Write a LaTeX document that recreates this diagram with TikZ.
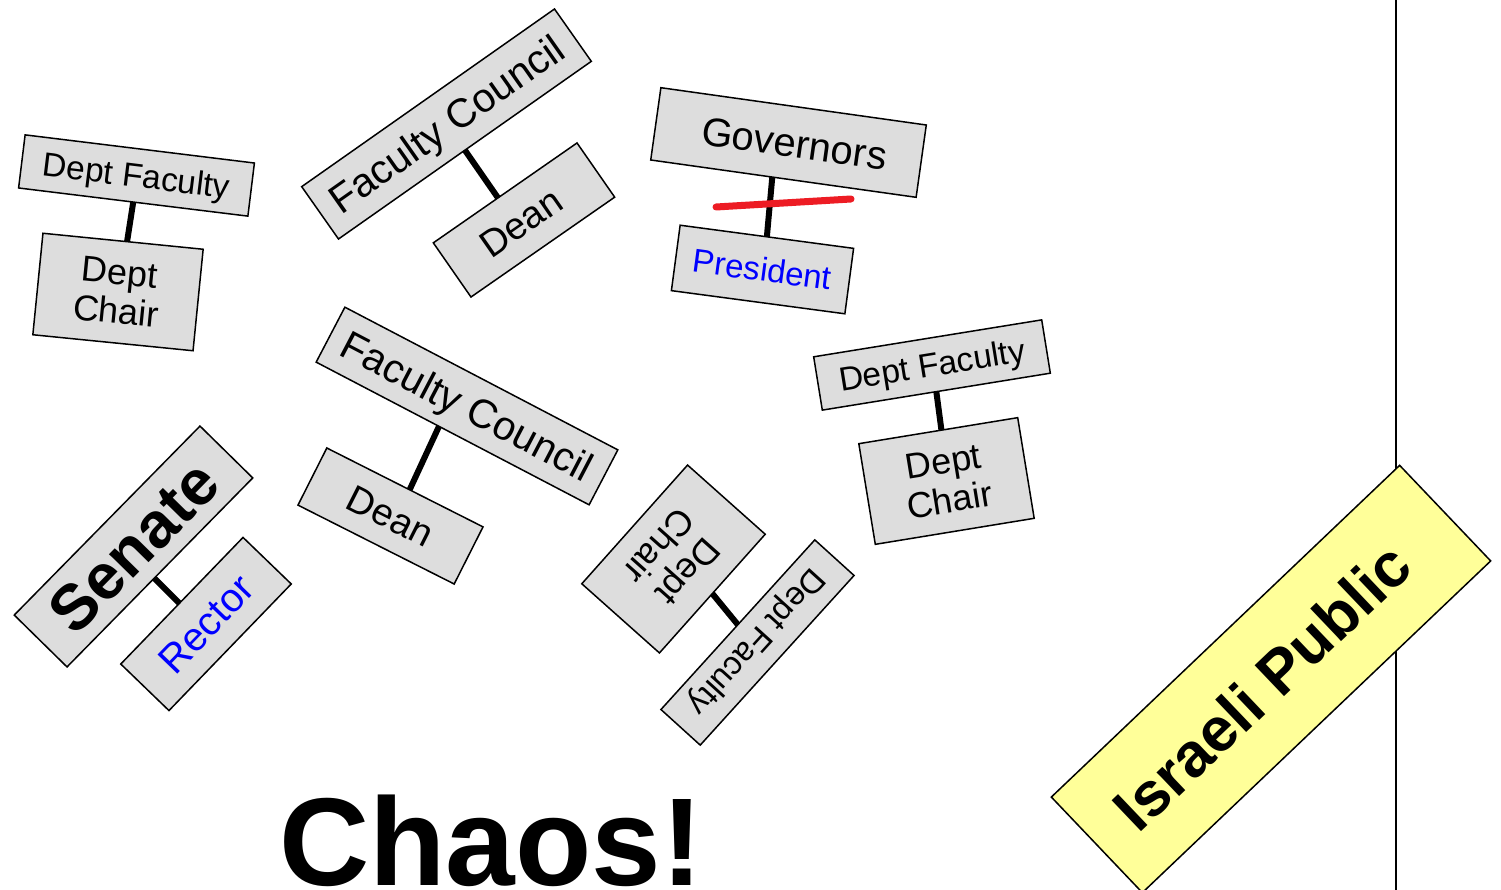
\documentclass[tikz,border=0pt]{standalone}
\usepackage{fontspec}
\setmainfont{Liberation Sans}
\usetikzlibrary{calc}
\definecolor{boxgray}{HTML}{DDDDDD}
\definecolor{pubyellow}{HTML}{FFFF99}
\definecolor{cutred}{RGB}{237,28,36}
\definecolor{roleblue}{RGB}{0,0,255}
\newcommand{\fsz}[2]{\fontsize{#1}{#2}\selectfont}
\newcommand{\pps}{\rule[-0.2em]{0pt}{1.1em}}
\tikzset{
  orgbox/.style={draw=black, line width=1.5pt, fill=boxgray, rectangle, inner sep=0pt, outer sep=0pt, align=center},
  pubbox/.style={orgbox, fill=pubyellow},
  link/.style={line width=6pt, line cap=butt},
  cutline/.style={draw=cutred, line width=7pt, line cap=round},
  rail/.style={line width=1.5pt},
}
\begin{document}
\begin{tikzpicture}[x=1pt, y=-1pt]
\fill[white] (0,0) rectangle (1501,890);
\useasboundingbox (0,0) rectangle (1501,890);

% vertical rail behind the yellow box
\coordinate (railT) at (1396,0);
\coordinate (railB) at (1396,890);
\draw[rail] (railT) -- (railB);

% top-left pair
\node[orgbox, minimum width=231pt, minimum height=53.5pt, rotate=-7, font=\fsz{33.5}{35}] (dfA) at (136.5,175.5) {\pps Dept Faculty};
\node[orgbox, minimum width=161pt, minimum height=102pt, rotate=-5.7, font=\fsz{36}{39}] (dcA) at (118,292) {Dept\\Chair};

% top faculty council / dean
\node[orgbox, minimum width=309pt, minimum height=64pt, rotate=35.1, font=\fsz{40.5}{43}] (fcA) at (446.5,124) {\pps Faculty Council};
\node[orgbox, minimum width=175pt, minimum height=66pt, rotate=34.8, font=\fsz{38}{40}] (deanA) at (524,220) {\pps Dean\hspace*{8pt}};

% governors / president
\node[orgbox, minimum width=268pt, minimum height=73pt, rotate=-8, font=\fsz{40}{42}] (gov) at (788.5,142.5) {\pps\hspace*{12pt}Governors};
\node[orgbox, minimum width=175pt, minimum height=66pt, rotate=-7.6, font=\fsz{33}{35}, text=roleblue] (pres) at (762.5,269.5) {\pps President};

% right pair
\node[orgbox, minimum width=231pt, minimum height=54pt, rotate=9.2, font=\fsz{33.5}{35}] (dfB) at (932,365) {\pps Dept Faculty};
\node[orgbox, minimum width=161pt, minimum height=102pt, rotate=9.3, font=\fsz{36}{39}] (dcB) at (946.5,481) {Dept\\Chair};

% middle faculty council / dean
\node[orgbox, minimum width=308pt, minimum height=62pt, rotate=-27.6, font=\fsz{40.5}{43}] (fcB) at (467,406) {\pps Faculty Council};
\node[orgbox, minimum width=175pt, minimum height=64pt, rotate=-26.8, font=\fsz{38}{40}] (deanB) at (390.5,516) {\pps Dean};

% senate / rector
\node[orgbox, minimum width=265pt, minimum height=74pt, rotate=45.5, font=\fsz{64}{66}\bfseries] (senate) at (133.5,546.5) {\pps Senate};
\node[orgbox, minimum width=176pt, minimum height=67pt, rotate=46, font=\fsz{40}{42}, text=roleblue] (rector) at (206,624) {\pps Rector};

% upside-down pair
\node[orgbox, minimum width=159pt, minimum height=104pt, rotate=228.3, font=\fsz{36}{39}] (dcC) at (673.5,559) {Dept\\Chair};
\node[orgbox, minimum width=229pt, minimum height=53pt, rotate=227.8, font=\fsz{33}{35}] (dfC) at (757.5,642.5) {\pps Dept Faculty};

% Israeli public
\node[pubbox, minimum width=481pt, minimum height=132pt, rotate=43.6, font=\fsz{62}{64}\bfseries] (pub) at (1271,679) {\pps Israeli Public\hspace*{24pt}};

% connectors
\draw[link] (dfA.south) -- ($(dcA.north west)!0.525!(dcA.north east)$);
\draw[link] (fcA.south) -- ($(deanA.north west)!0.45!(deanA.north east)$);
\draw[link] ($(gov.south west)!0.458!(gov.south east)$) -- (pres.north);
\draw[link] (dfB.south) -- ($(dcB.north west)!0.52!(dcB.north east)$);
\draw[link] ($(fcB.south west)!0.45!(fcB.south east)$) -- ($(deanB.north west)!0.53!(deanB.north east)$);
\draw[link] ($(senate.south west)!0.47!(senate.south east)$) -- ($(rector.north west)!0.48!(rector.north east)$);
\draw[link] (dcC.north) -- (dfC.south);

% red strike-through
\coordinate (cutL) at (716,207);
\coordinate (cutR) at (851,199);
\draw[cutline] (cutL) -- (cutR);

% title
\node[anchor=base, inner sep=0pt, font=\fsz{125}{130}\bfseries] (chaos) at (491,885) {Chaos!};
\end{tikzpicture}
\end{document}
